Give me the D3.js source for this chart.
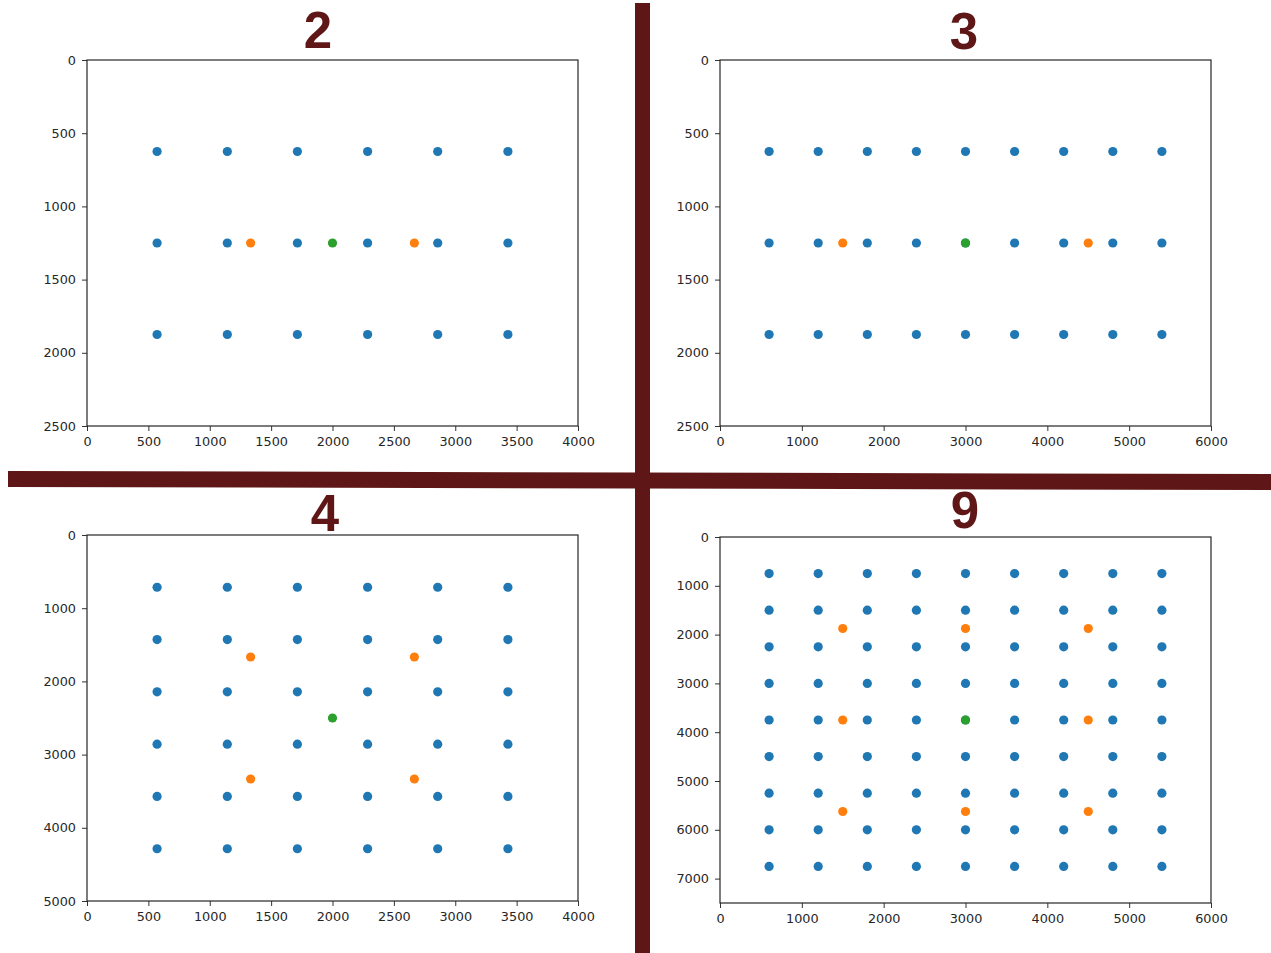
<!DOCTYPE html>
<html>
<head>
<meta charset="utf-8">
<script src="https://cdn.jsdelivr.net/npm/d3@7"></script>
<style>
  html, body { margin: 0; padding: 0; background: #fff; }
  svg { display: block; }
  .tick text { font-family: "DejaVu Sans", sans-serif; font-size: 12.8px; fill: #262626; }
</style>
</head>
<body>
<svg id="chart" width="1271" height="953"></svg>
<script>
// Grid coordinates for each layout
const xs7k4000 = [571, 1143, 1714, 2286, 2857, 3429];
const xs10k6000 = [600, 1200, 1800, 2400, 3000, 3600, 4200, 4800, 5400];
const ysRows3 = [625, 1250, 1875];
const ysRows6 = [714, 1429, 2143, 2857, 3571, 4286];
const ysRows9 = [750, 1500, 2250, 3000, 3750, 4500, 5250, 6000, 6750];

// Highlighted points per panel
const orange2 = [[1333, 1250], [2667, 1250]];
const green2 = [[2000, 1250]];
const orange3 = [[1500, 1250], [4500, 1250]];
const green3 = [[3000, 1250]];
const orange4 = [[1333, 1667], [2667, 1667], [1333, 3333], [2667, 3333]];
const green4 = [[2000, 2500]];
const orange9 = [[1500, 1875], [3000, 1875], [4500, 1875], [1500, 3750], [4500, 3750], [1500, 5625], [3000, 5625], [4500, 5625]];
const green9 = [[3000, 3750]];

// Tick labels
const xTicks4000 = [0, 500, 1000, 1500, 2000, 2500, 3000, 3500, 4000];
const xTicks6000 = [0, 1000, 2000, 3000, 4000, 5000, 6000];
const yTicks2500 = [0, 500, 1000, 1500, 2000, 2500];
const yTicks5000 = [0, 1000, 2000, 3000, 4000, 5000];
const yTicks7000 = [0, 1000, 2000, 3000, 4000, 5000, 6000, 7000];

const titles = ["2", "3", "4", "9"];

const BLUE = "#1f77b4", ORANGE = "#ff7f0e", GREEN = "#2ca02c", MAROON = "#5e1616";

const svg = d3.select("#chart");

function grid(xsArr, ysArr) {
  const pts = [];
  ysArr.forEach(y => xsArr.forEach(x => pts.push([x, y])));
  return pts;
}

const panels = [
  { title: titles[0], box: [87, 60, 578, 426], xMax: 4000, yMax: 2500, xTicks: xTicks4000, yTicks: yTicks2500,
    blue: grid(xs7k4000, ysRows3), orange: orange2, green: green2, titleX: 318, titleY: 48 },
  { title: titles[1], box: [720, 60, 1211, 426], xMax: 6000, yMax: 2500, xTicks: xTicks6000, yTicks: yTicks2500,
    blue: grid(xs10k6000, ysRows3), orange: orange3, green: green3, titleX: 964, titleY: 49 },
  { title: titles[2], box: [87, 535, 578, 901], xMax: 4000, yMax: 5000, xTicks: xTicks4000, yTicks: yTicks5000,
    blue: grid(xs7k4000, ysRows6), orange: orange4, green: green4, titleX: 325, titleY: 531 },
  { title: titles[3], box: [720, 537, 1211, 903], xMax: 6000, yMax: 7500, xTicks: xTicks6000, yTicks: yTicks7000,
    blue: grid(xs10k6000, ysRows9), orange: orange9, green: green9, titleX: 965, titleY: 528 }
];

panels.forEach(p => {
  const [x0, y0, x1, y1] = p.box;
  const x = d3.scaleLinear().domain([0, p.xMax]).range([x0, x1]);
  const y = d3.scaleLinear().domain([0, p.yMax]).range([y0, y1]);
  const g = svg.append("g");

  g.append("text")
    .attr("x", p.titleX).attr("y", p.titleY)
    .attr("text-anchor", "middle")
    .attr("font-family", "'Liberation Sans', sans-serif")
    .attr("font-weight", "bold")
    .attr("font-size", 51)
    .attr("fill", MAROON)
    .text(p.title);

  const xAxis = g.append("g").attr("transform", `translate(0,${y1})`)
    .call(d3.axisBottom(x).tickValues(p.xTicks).tickFormat(d3.format("d")).tickSize(5).tickPadding(6));
  const yAxis = g.append("g").attr("transform", `translate(${x0},0)`)
    .call(d3.axisLeft(y).tickValues(p.yTicks).tickFormat(d3.format("d")).tickSize(5).tickPadding(6));
  [xAxis, yAxis].forEach(a => {
    a.select(".domain").remove();
    a.selectAll(".tick line").attr("stroke", "#333").attr("stroke-width", 1);
  });

  g.append("rect")
    .attr("x", x0).attr("y", y0).attr("width", x1 - x0).attr("height", y1 - y0)
    .attr("fill", "none").attr("stroke", "#262626").attr("stroke-width", 1.2);

  const layers = [[p.blue, BLUE], [p.orange, ORANGE], [p.green, GREEN]];
  layers.forEach(([pts, col]) => {
    g.append("g").selectAll("circle").data(pts).join("circle")
      .attr("cx", d => x(d[0])).attr("cy", d => y(d[1]))
      .attr("r", 4.6).attr("fill", col);
  });
});

// Divider bars between the panels
svg.append("rect").attr("x", 635).attr("y", 3).attr("width", 15).attr("height", 950).attr("fill", MAROON);
svg.append("polygon")
  .attr("points", "8,471 1271,474 1271,490 8,487")
  .attr("fill", MAROON);
</script>
</body>
</html>
